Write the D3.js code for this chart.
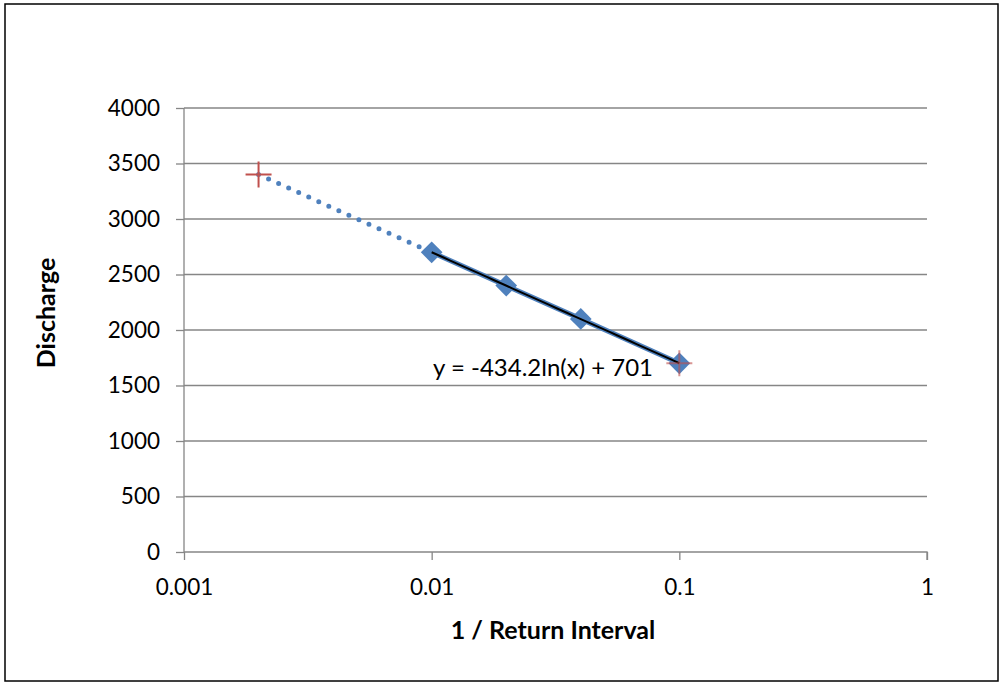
<!DOCTYPE html>
<html lang="en">
<head>
    <meta charset="UTF-8">
    <script src="https://cdnjs.cloudflare.com/ajax/libs/d3/7.8.5/d3.min.js" type="text/JavaScript"></script>
    <style>
        body { margin: 0; background: #fff; }
        text { font-family: Lato, "Liberation Sans", sans-serif; fill: #000; }
    </style>
</head>
<body>
<div id="viz">
    <svg style="width:1005px;height:684px;"></svg>
</div>
<script>
    // observed points (1 / return interval, discharge)
    const obsX = [0.01, 0.02, 0.04, 0.1];
    const obsY = [2700, 2400, 2100, 1700];

    // points read from the fitted trend (red crosses)
    const fitX = [0.002, 0.1];
    const fitY = [3400, 1700];

    // dotted extrapolation
    const extX = [0.002, 0.01];
    const extY = [3400, 2700];

    const yTicks = [0, 500, 1000, 1500, 2000, 2500, 3000, 3500, 4000];
    const xTicks = [0.001, 0.01, 0.1, 1];
    const xTickLabels = ['0.001', '0.01', '0.1', '1'];
    const trendA = -434.2, trendB = 701;
    const equation = 'y = -434.2ln(x) + 701';

    const svg = d3.select('svg');
    const x = d3.scaleLog().domain([0.001, 1]).range([184, 927]);
    const y = d3.scaleLinear().domain([0, 4000]).range([552, 108]);

    svg.append('rect')
        .attr('x', 5).attr('y', 4).attr('width', 993).attr('height', 677)
        .attr('fill', '#fff').attr('stroke', '#000').attr('stroke-width', 1.5);

    // gridlines
    svg.append('g').selectAll('line')
        .data(yTicks.slice(1)).enter()
        .append('line')
        .attr('x1', x(0.001)).attr('x2', x(1))
        .attr('y1', d => y(d)).attr('y2', d => y(d))
        .attr('stroke', '#868686').attr('stroke-width', 1.3);

    // axes
    const yAxis = svg.append('g')
        .attr('transform', `translate(${x(0.001)},0)`)
        .call(d3.axisLeft(y).tickValues(yTicks).tickSize(8).tickPadding(16).tickFormat(d3.format('d')));
    const xAxis = svg.append('g')
        .attr('transform', `translate(0,${y(0)})`)
        .call(d3.axisBottom(x).tickValues(xTicks).tickSize(8).tickPadding(19)
            .tickFormat((d, i) => xTickLabels[i]));
    [xAxis, yAxis].forEach(g => {
        g.select('.domain').attr('stroke', '#868686').attr('stroke-width', 1.3);
        g.selectAll('.tick line').attr('stroke', '#868686').attr('stroke-width', 1.3);
        g.selectAll('.tick text').style('font-size', '22.5px').attr('fill', '#000');
    });
    xAxis.select('.domain').attr('d', `M${x(0.001)},0H${x(1)}V8`);
    yAxis.select('.domain').attr('d', `M0,${y(4000)}V${y(0)}`);

    // dotted extrapolation
    const line = d3.line().x(d => x(d[0])).y(d => y(d[1]));
    svg.append('path')
        .datum(d3.zip(extX, extY))
        .attr('d', line)
        .attr('fill', 'none').attr('stroke', '#4F81BD')
        .attr('stroke-width', 5).attr('stroke-linecap', 'round')
        .attr('stroke-dasharray', '0 11');

    // observed series line
    const obs = d3.zip(obsX, obsY);
    svg.append('path')
        .datum(obs)
        .attr('d', line)
        .attr('fill', 'none').attr('stroke', '#4F81BD').attr('stroke-width', 5);

    // diamonds
    svg.append('g').selectAll('path')
        .data(obs).enter()
        .append('path')
        .attr('d', d3.symbol(d3.symbolDiamond2, 300))
        .attr('transform', d => `translate(${x(d[0])},${y(d[1])})`)
        .attr('fill', '#4F81BD');

    // trendline
    const trend = d3.range(0, 41).map(i => {
        const v = Math.pow(10, -2 + i / 40);
        return [v, trendA * Math.log(v) + trendB];
    });
    svg.append('path')
        .datum(trend)
        .attr('d', line)
        .attr('fill', 'none').attr('stroke', '#000').attr('stroke-width', 2);

    // red crosses
    const cross = svg.append('g').selectAll('g')
        .data(d3.zip(fitX, fitY)).enter()
        .append('g')
        .attr('transform', d => `translate(${x(d[0])},${y(d[1])})`);
    cross.append('path')
        .attr('d', 'M-13,0H13M0,-13V13')
        .attr('stroke', '#C0504D').attr('stroke-width', 2)
        .attr('opacity', (d, i) => i === 1 ? 0.6 : 1);

    svg.append('text')
        .attr('x', 543).attr('y', 376)
        .attr('text-anchor', 'middle')
        .style('font-size', '24px')
        .text(equation);

    svg.append('text')
        .attr('x', 553).attr('y', 639)
        .attr('text-anchor', 'middle')
        .style('font-size', '25px').style('font-weight', 'bold')
        .text('1 / Return Interval');

    svg.append('text')
        .attr('transform', 'translate(55,313) rotate(-90)')
        .attr('text-anchor', 'middle')
        .style('font-size', '25px').style('font-weight', 'bold')
        .text('Discharge');
</script>
</body>
</html>
